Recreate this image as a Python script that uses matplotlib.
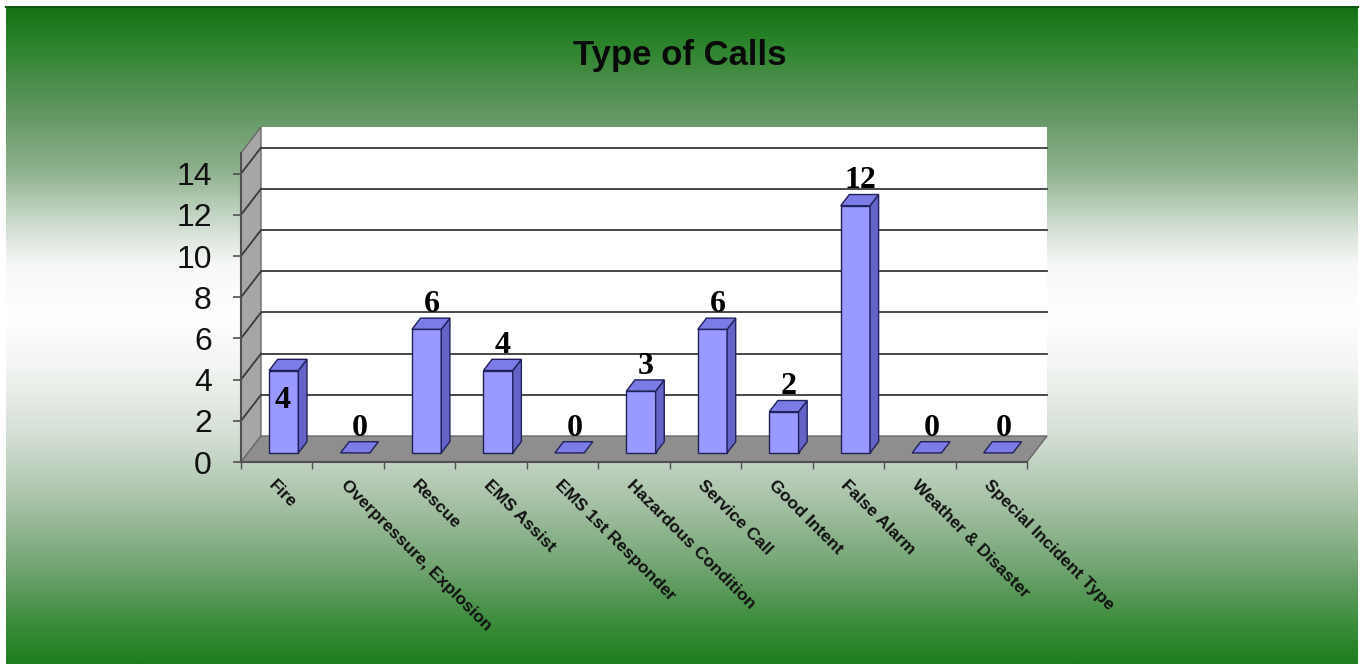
import numpy as np
import matplotlib
matplotlib.use("Agg")
import matplotlib.pyplot as plt
from matplotlib.patches import Polygon
from matplotlib.colors import LinearSegmentedColormap

# ---- data ----
categories = ["Fire", "Overpressure, Explosion", "Rescue", "EMS Assist",
              "EMS 1st Responder", "Hazardous Condition", "Service Call",
              "Good Intent", "False Alarm", "Weather & Disaster",
              "Special Incident Type"]
values = [4, 0, 6, 4, 0, 3, 6, 2, 12, 0, 0]
yticks = [0, 2, 4, 6, 8, 10, 12, 14]
title = "Type of Calls"

W, H = 1364, 664
fig = plt.figure(figsize=(W / 100, H / 100), dpi=100)
fig.patch.set_facecolor("white")

# ---- background gradient panel ----
bg = fig.add_axes([0, 0, 1, 1], zorder=-5)
bg.set_xlim(0, W)
bg.set_ylim(H, 0)
bg.axis("off")
stops = [(0.00, "#157315"), (0.05, "#2a832a"), (0.15, "#5e945e"),
         (0.25, "#8fb28f"), (0.33, "#cfdccf"), (0.39, "#f6f8f6"),
         (0.47, "#ffffff"), (0.55, "#f2f5f2"), (0.66, "#d2ddd2"),
         (0.76, "#a4c0a4"), (0.86, "#6fa36f"), (0.94, "#3b8c3b"),
         (1.00, "#1f7f1f")]
cmap = LinearSegmentedColormap.from_list("bgg", stops)
grad = np.linspace(0, 1, 400).reshape(-1, 1)
bg.imshow(grad, cmap=cmap, aspect="auto", extent=[6, 1358, H, 7],
          interpolation="bilinear")
bg.plot([6, 1358], [7, 7], color="#0f5a0f", lw=1.5)

# ---- main axes (front plane) ----
x0, x1, y0, y1 = 241, 1027, 462, 153
ax = fig.add_axes([x0 / W, (H - y0) / H, (x1 - x0) / W, (y0 - y1) / H])
ax.set_facecolor("none")
n = len(categories)
ax.set_xlim(-0.5, n - 0.5)
ax.set_ylim(0, 15)

DX, DY = 0.28, 1.262  # depth offset (category units, value units)

# back wall
ax.add_patch(Polygon([(-0.5 + DX, DY), (n - 0.5 + DX, DY),
                      (n - 0.5 + DX, 15 + DY), (-0.5 + DX, 15 + DY)],
                     closed=True, facecolor="white", edgecolor="none",
                     clip_on=False, zorder=1))
# left wall
ax.add_patch(Polygon([(-0.5, 0), (-0.5 + DX, DY), (-0.5 + DX, 15 + DY), (-0.5, 15)],
                     closed=True, facecolor="#a6a6a6", edgecolor="#6a6a6a",
                     lw=1, clip_on=False, zorder=2))
# floor
ax.add_patch(Polygon([(-0.5, 0), (n - 0.5, 0), (n - 0.5 + DX, DY), (-0.5 + DX, DY)],
                     closed=True, facecolor="#8e8e8e", edgecolor="#6a6a6a",
                     lw=1, clip_on=False, zorder=2))
# gridlines
for v in yticks:
    if v == 0:
        continue
    ax.plot([-0.5 + DX, n - 0.5 + DX], [v + DY, v + DY], color="#3a3a3a",
            lw=1.3, clip_on=False, zorder=1.5)
    ax.plot([-0.5, -0.5 + DX], [v, v + DY], color="#3a3a3a",
            lw=1.3, clip_on=False, zorder=2.5)

# bars
f0, f1 = 0.35, 0.78
bw = 0.41
front_c, top_c, side_c, edge_c = "#9999ff", "#7c7ce6", "#6464c8", "#20205a"
for i, v in enumerate(values):
    xc = i + f0 * DX
    xl, xr = xc - bw / 2, xc + bw / 2
    b = f0 * DY
    ddx, ddy = (f1 - f0) * DX, (f1 - f0) * DY
    if v > 0:
        ax.add_patch(Polygon([(xl, b), (xr, b), (xr, b + v), (xl, b + v)],
                             closed=True, facecolor=front_c, edgecolor=edge_c,
                             lw=1, clip_on=False, zorder=4))
        ax.add_patch(Polygon([(xr, b), (xr + ddx, b + ddy), (xr + ddx, b + ddy + v),
                              (xr, b + v)], closed=True, facecolor=side_c,
                             edgecolor=edge_c, lw=1, clip_on=False, zorder=4))
    ax.add_patch(Polygon([(xl, b + v), (xr, b + v), (xr + ddx, b + v + ddy),
                          (xl + ddx, b + v + ddy)], closed=True, facecolor=top_c,
                         edgecolor=edge_c, lw=1, clip_on=False, zorder=4))
    if i == 0:
        lx, ly = xc - 0.02, v - 1.0
    else:
        lx, ly = xc + 0.07, v + 1.65
    ax.text(lx, ly, str(v), ha="center", va="center", fontsize=23,
            fontweight="bold", family="Liberation Serif", color="black",
            zorder=6, clip_on=False)

# spines & ticks
for s in ["top", "right"]:
    ax.spines[s].set_visible(False)
for s in ["left", "bottom"]:
    ax.spines[s].set_color("#505050")
    ax.spines[s].set_linewidth(1.5)
    ax.spines[s].set_zorder(3)
ax.set_yticks(yticks)
ax.set_yticklabels([str(t) for t in yticks], fontsize=23, family="Liberation Sans",
                   color="#111111")
ax.tick_params(axis="y", direction="out", length=6, width=1.2, color="#505050", pad=15)
ax.set_xticks(np.arange(n))
ax.set_xticklabels(categories, rotation=-45, ha="left", va="top",
                   rotation_mode="anchor", fontsize=12.5, fontweight="bold",
                   family="Liberation Sans", color="#111111")
ax.tick_params(axis="x", length=0, pad=11)
ax.set_xticks(np.arange(-0.5, n, 1.0), minor=True)
ax.tick_params(axis="x", which="minor", length=5, width=1, color="#505050")

fig.text(680 / W, 1 - 55 / H, title, ha="center", va="center", fontsize=25,
         fontweight="bold", family="Liberation Sans", color="#0a0a0a")

fig.savefig("out.png", dpi=100)
